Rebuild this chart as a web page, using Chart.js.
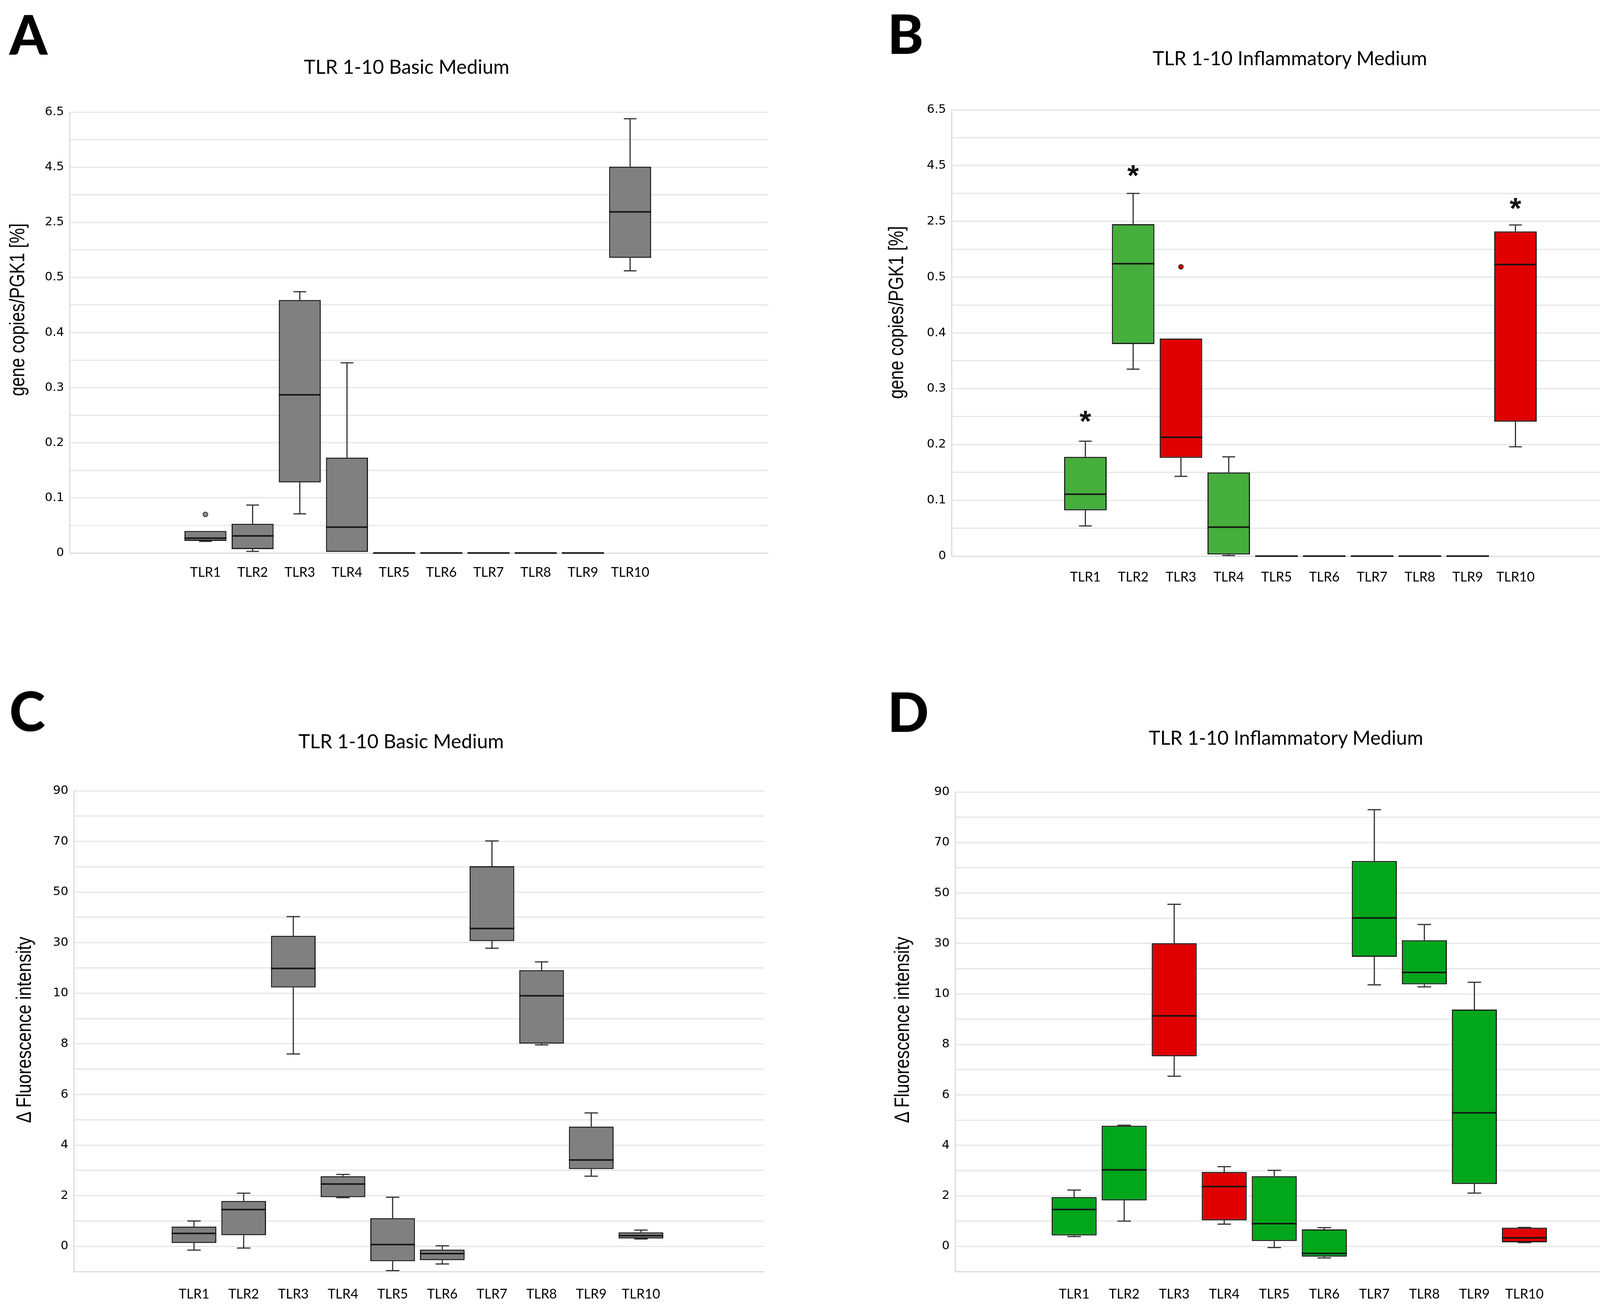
<!DOCTYPE html>
<html>
<head>
<meta charset="utf-8">
<script src="https://cdn.jsdelivr.net/npm/chart.js@4.4.0/dist/chart.umd.min.js"></script>
<style>
html, body { margin: 0; padding: 0; overflow: hidden; }
body { background: #fff; width: 4268px; height: 3339px; position: relative; font-family: Lato, "Liberation Sans", Arial, sans-serif; color: #000; }
canvas { position: absolute; }
.letter { position: absolute; font-weight: 900; font-size: 139px; line-height: 1; }
.title { position: absolute; font-size: 50px; line-height: 1; white-space: nowrap; transform: translate(-50%, -50%); }
.ylab { position: absolute; font-family: "Liberation Sans", Arial, sans-serif; font-size: 44px; line-height: 1; white-space: nowrap; transform: translate(-50%, -50%) rotate(-90deg) scaleY(1.2); }
</style>
</head>
<body>
<div class="letter" style="left:24px;top:17px">A</div>
<div class="letter" style="left:2272px;top:15px">B</div>
<div class="letter" style="left:24px;top:1749px">C</div>
<div class="letter" style="left:2272px;top:1751px">D</div>

<div class="title" style="left:1041px;top:170px">TLR 1-10 Basic Medium</div>
<div class="title" style="left:3302px;top:148px">TLR 1-10 Inflammatory Medium</div>
<div class="title" style="left:1027px;top:1897px">TLR 1-10 Basic Medium</div>
<div class="title" style="left:3292px;top:1888px">TLR 1-10 Inflammatory Medium</div>

<div class="ylab" style="left:44px;top:793px">gene copies/PGK1 [%]</div>
<div class="ylab" style="left:2294px;top:800px">gene copies/PGK1 [%]</div>
<div class="ylab" style="left:61px;top:2637px">Δ Fluorescence intensity</div>
<div class="ylab" style="left:2309px;top:2637px">Δ Fluorescence intensity</div>

<canvas id="chartA" width="1997" height="1259" style="left:0px;top:247px"></canvas>
<canvas id="chartB" width="2002" height="1273" style="left:2266px;top:241px"></canvas>
<canvas id="chartC" width="1986" height="1361" style="left:0px;top:1985px"></canvas>
<canvas id="chartD" width="1970" height="1358" style="left:2275px;top:1988px"></canvas>

<script>
const labels = ['TLR1', 'TLR2', 'TLR3', 'TLR4', 'TLR5', 'TLR6', 'TLR7', 'TLR8', 'TLR9', 'TLR10'];
const yTicksAB = ['0', '0.1', '0.2', '0.3', '0.4', '0.5', '2.5', '4.5', '6.5'];
const yTicksCD = ['0', '2', '4', '6', '8', '10', '30', '50', '70', '90'];

// A: gene copies, basic medium
const minA = [0.021, 0.003, 0.071, 0.002, 0, 0, 0, 0, 0, 0.74];
const q1A  = [0.022, 0.007, 0.128, 0.002, 0, 0, 0, 0, 0, 1.21];
const medA = [0.027, 0.031, 0.287, 0.047, 0, 0, 0, 0, 0, 2.88];
const q3A  = [0.040, 0.053, 0.459, 0.173, 0, 0, 0, 0, 0, 4.52];
const maxA = [0.040, 0.087, 0.474, 0.345, 0, 0, 0, 0, 0, 6.26];
const outA = [0.070, null, null, null, null, null, null, null, null, null];

// B: gene copies, inflammatory medium
const minB = [0.054, 0.335, 0.143, 0.001, 0, 0, 0, 0, 0, 0.196];
const q1B  = [0.082, 0.380, 0.176, 0.003, 0, 0, 0, 0, 0, 0.241];
const medB = [0.111, 0.98, 0.213, 0.052, 0, 0, 0, 0, 0, 0.95];
const q3B  = [0.178, 2.40, 0.390, 0.150, 0, 0, 0, 0, 0, 2.14];
const maxB = [0.206, 3.50, 0.390, 0.178, 0, 0, 0, 0, 0, 2.37];
const outB = [null, null, 0.87, null, null, null, null, null, null, null];
const starB = [0.255, 4.4, null, null, null, null, null, null, null, 3.22];

// C: fluorescence, basic medium
const minC = [-0.15, -0.07, 7.6, 1.92, -0.96, -0.70, 27.8, 7.96, 2.77, 0.29];
const q1C  = [0.13, 0.44, 12.3, 1.94, -0.59, -0.55, 30.6, 8.01, 3.05, 0.31];
const medC = [0.51, 1.45, 19.8, 2.46, 0.07, -0.29, 35.6, 9.9, 3.41, 0.42];
const q3C  = [0.78, 1.79, 32.7, 2.77, 1.11, -0.13, 60.2, 19.1, 4.73, 0.55];
const maxC = [1.00, 2.10, 40.3, 2.84, 1.94, 0.02, 70.2, 22.4, 5.27, 0.64];

// D: fluorescence, inflammatory medium
const minD = [0.39, 1.00, 6.74, 0.88, -0.05, -0.46, 13.6, 12.8, 2.11, 0.15];
const q1D  = [0.43, 1.82, 7.53, 1.03, 0.21, -0.41, 24.7, 13.8, 2.47, 0.16];
const medD = [1.46, 3.03, 9.13, 2.37, 0.90, -0.28, 40.1, 18.5, 5.29, 0.34];
const q3D  = [1.95, 4.78, 30.1, 2.95, 2.78, 0.67, 62.7, 31.3, 9.38, 0.74];
const maxD = [2.23, 4.80, 45.5, 3.16, 3.01, 0.74, 83.0, 37.5, 14.6, 0.75];

const GRAY = '#808080', GREEN_B = '#45ae3d', GREEN_D = '#02a61b', RED = '#e00000';
const colorsA = labels.map(() => GRAY);
const colorsB = [GREEN_B, GREEN_B, RED, GREEN_B, GREEN_B, GREEN_B, GREEN_B, GREEN_B, GREEN_B, RED];
const colorsD = [GREEN_D, GREEN_D, RED, RED, GREEN_D, GREEN_D, GREEN_D, GREEN_D, GREEN_D, RED];

// broken y axes: equal spacing between the labelled ticks
const posAB = v => v <= 0.5 ? v * 10 : 5 + (v - 0.5) / 2;
const posCD = v => v <= 10 ? v / 2 : 5 + (v - 10) / 20;

const boxPlugin = {
    id: 'boxplot',
    beforeDatasetsDraw(chart, args, o) {
        const ctx = chart.ctx, y = chart.scales.y;
        const bars = chart.getDatasetMeta(0).data;
        ctx.save();
        ctx.strokeStyle = '#333';
        ctx.lineWidth = 3;
        bars.forEach((bar, i) => {
            const cap = bar.width * 0.15;
            const segs = [[o.q3[i], o.max[i]], [o.q1[i], o.min[i]]];
            segs.forEach(([from, to]) => {
                if (to === from) return;
                const p1 = y.getPixelForValue(from), p2 = y.getPixelForValue(to);
                ctx.beginPath();
                ctx.moveTo(bar.x, p1);
                ctx.lineTo(bar.x, p2);
                ctx.moveTo(bar.x - cap, p2);
                ctx.lineTo(bar.x + cap, p2);
                ctx.stroke();
            });
        });
        ctx.restore();
    },
    afterDatasetsDraw(chart, args, o) {
        const ctx = chart.ctx, y = chart.scales.y;
        const bars = chart.getDatasetMeta(0).data;
        ctx.save();
        ctx.strokeStyle = '#151515';
        ctx.lineWidth = 4;
        bars.forEach((bar, i) => {
            const p = y.getPixelForValue(o.med[i]);
            ctx.beginPath();
            ctx.moveTo(bar.x - bar.width / 2, p);
            ctx.lineTo(bar.x + bar.width / 2, p);
            ctx.stroke();
        });
        ctx.fillStyle = '#111';
        ctx.font = "bold 76px 'Liberation Sans', Arial, sans-serif";
        ctx.textAlign = 'center';
        ctx.textBaseline = 'alphabetic';
        (o.stars || []).forEach((v, i) => {
            if (v == null) return;
            ctx.fillText('*', bars[i].x, y.getPixelForValue(v) + 44);
        });
        ctx.restore();
    }
};

function boxChart(id, s) {
    const T = arr => arr.map(v => v == null ? null : s.pos(v));
    const boxes = labels.map((_, i) => ({ x: i, y: [s.pos(s.q1[i]), s.pos(s.q3[i])] }));
    const outliers = [];
    (s.out || []).forEach((v, i) => { if (v != null) outliers.push({ x: i, y: s.pos(v) }); });
    const yTickValues = [];
    for (let v = s.ymin; v <= s.ymax + 1e-9; v += 0.5) yTickValues.push(v);

    return new Chart(document.getElementById(id), {
        type: 'bar',
        data: {
            datasets: [{
                data: boxes,
                backgroundColor: s.colors,
                borderColor: '#1a1a1a',
                borderWidth: 3,
                borderSkipped: false,
                barPercentage: s.barPct,
                categoryPercentage: 1,
                grouped: false
            }, {
                type: 'scatter',
                data: outliers,
                pointRadius: 6,
                pointBackgroundColor: s.outColor,
                pointBorderColor: '#333',
                pointBorderWidth: 2
            }]
        },
        options: {
            responsive: false,
            animation: false,
            devicePixelRatio: 1,
            events: [],
            layout: { padding: { top: 40, right: 30, left: 0, bottom: 0 } },
            plugins: {
                legend: { display: false },
                tooltip: { enabled: false },
                boxplot: { min: T(s.min), q1: T(s.q1), med: T(s.med), q3: T(s.q3), max: T(s.max), stars: T(s.stars || []) }
            },
            scales: {
                x: {
                    type: 'linear',
                    min: s.xmin,
                    max: s.xmax,
                    offset: false,
                    afterBuildTicks: sc => { sc.ticks = labels.map((_, i) => ({ value: i })); },
                    afterFit: sc => { sc.height = 90; },
                    grid: { display: false },
                    border: { display: true, color: '#dcdcdc', width: 3 },
                    ticks: {
                        autoSkip: false, maxRotation: 0, padding: s.xPad, color: '#000',
                        font: { family: "Lato, 'Liberation Sans', Arial, sans-serif", size: 34 },
                        callback: (v, i) => labels[i]
                    }
                },
                y: {
                    type: 'linear',
                    min: s.ymin,
                    max: s.ymax,
                    afterBuildTicks: sc => { sc.ticks = yTickValues.map(v => ({ value: v })); },
                    afterFit: sc => { sc.width = s.yWidth; },
                    grid: { color: '#e6e6e6', lineWidth: 3, drawTicks: false },
                    border: { display: true, color: '#dcdcdc', width: 3 },
                    ticks: {
                        padding: 14, color: '#000',
                        font: { family: "'DejaVu Sans', 'Liberation Sans', Arial, sans-serif", size: 31 },
                        callback: v => (Number.isInteger(v) && v >= 0) ? s.yTicks[v] : ''
                    }
                }
            }
        },
        plugins: [boxPlugin]
    });
}

boxChart('chartA', {
    pos: posAB, ymin: 0, ymax: 8, yTicks: yTicksAB, xmin: -2.88, xmax: 11.93, yWidth: 178, barPct: 0.89, xPad: 22,
    min: minA, q1: q1A, med: medA, q3: q3A, max: maxA, out: outA, outColor: '#8a8a8a', colors: colorsA
});
boxChart('chartB', {
    pos: posAB, ymin: 0, ymax: 8, yTicks: yTicksAB, xmin: -2.80, xmax: 11.93, yWidth: 170, barPct: 0.89, xPad: 26,
    min: minB, q1: q1B, med: medB, q3: q3B, max: maxB, out: outB, outColor: '#d80000', stars: starB, colors: colorsB
});
boxChart('chartC', {
    pos: posCD, ymin: -0.5, ymax: 9, yTicks: yTicksCD, xmin: -2.42, xmax: 11.48, yWidth: 189, barPct: 0.9, xPad: 30,
    min: minC, q1: q1C, med: medC, q3: q3C, max: maxC, colors: colorsA
});
boxChart('chartD', {
    pos: posCD, ymin: -0.5, ymax: 9, yTicks: yTicksCD, xmin: -2.38, xmax: 11.44, yWidth: 170, barPct: 0.9, xPad: 30,
    min: minD, q1: q1D, med: medD, q3: q3D, max: maxD, colors: colorsD
});
</script>
</body>
</html>
